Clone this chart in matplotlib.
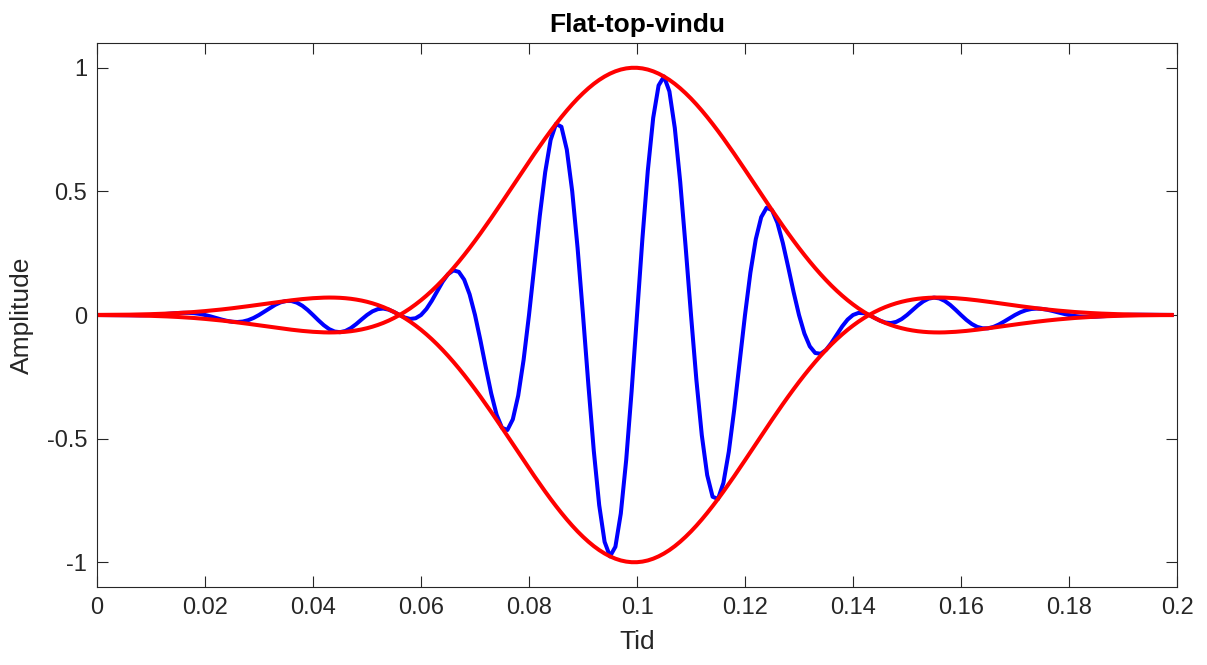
import matplotlib
matplotlib.use("Agg")
import matplotlib.pyplot as plt
import numpy as np

plt.rcParams["font.family"] = ["Liberation Sans", "DejaVu Sans"]
plt.rcParams["axes.unicode_minus"] = False

# sampling rate of the plotted signal (Hz)
fs = 1000

# flat-top window, one value per sample (0 .. 0.199 s)
window = [
    -0.0004, -0.0005, -0.0005, -0.0007, -0.0008, -0.0011, -0.0014, -0.0018, -0.0022, -0.0028,
    -0.0034, -0.0041, -0.0049, -0.0058, -0.0068, -0.0080, -0.0093, -0.0107, -0.0122, -0.0139,
    -0.0158, -0.0178, -0.0199, -0.0222, -0.0246, -0.0272, -0.0299, -0.0327, -0.0356, -0.0386,
    -0.0416, -0.0447, -0.0477, -0.0508, -0.0538, -0.0566, -0.0594, -0.0619, -0.0643, -0.0663,
    -0.0680, -0.0693, -0.0702, -0.0706, -0.0703, -0.0695, -0.0679, -0.0656, -0.0624, -0.0584,
    -0.0534, -0.0474, -0.0403, -0.0322, -0.0228, -0.0122, -0.0004, 0.0127, 0.0270, 0.0428,
    0.0598, 0.0782, 0.0979, 0.1189, 0.1413, 0.1649, 0.1897, 0.2157, 0.2428, 0.2709,
    0.3000, 0.3299, 0.3606, 0.3920, 0.4240, 0.4563, 0.4890, 0.5218, 0.5546, 0.5874,
    0.6198, 0.6519, 0.6833, 0.7141, 0.7440, 0.7728, 0.8005, 0.8269, 0.8519, 0.8753,
    0.8969, 0.9168, 0.9348, 0.9507, 0.9645, 0.9761, 0.9855, 0.9926, 0.9973, 0.9997,
    0.9997, 0.9973, 0.9926, 0.9855, 0.9761, 0.9645, 0.9507, 0.9348, 0.9168, 0.8969,
    0.8753, 0.8519, 0.8269, 0.8005, 0.7728, 0.7440, 0.7141, 0.6833, 0.6519, 0.6198,
    0.5874, 0.5546, 0.5218, 0.4890, 0.4563, 0.4240, 0.3920, 0.3606, 0.3299, 0.3000,
    0.2709, 0.2428, 0.2157, 0.1897, 0.1649, 0.1413, 0.1189, 0.0979, 0.0782, 0.0598,
    0.0428, 0.0270, 0.0127, -0.0004, -0.0122, -0.0228, -0.0322, -0.0403, -0.0474, -0.0534,
    -0.0584, -0.0624, -0.0656, -0.0679, -0.0695, -0.0703, -0.0706, -0.0702, -0.0693, -0.0680,
    -0.0663, -0.0643, -0.0619, -0.0594, -0.0566, -0.0538, -0.0508, -0.0477, -0.0447, -0.0416,
    -0.0386, -0.0356, -0.0327, -0.0299, -0.0272, -0.0246, -0.0222, -0.0199, -0.0178, -0.0158,
    -0.0139, -0.0122, -0.0107, -0.0093, -0.0080, -0.0068, -0.0058, -0.0049, -0.0041, -0.0034,
    -0.0028, -0.0022, -0.0018, -0.0014, -0.0011, -0.0008, -0.0007, -0.0005, -0.0005, -0.0004,
]

# windowed signal (blue), same samples
signal = [
    0, -0.0002, -0.0003, -0.0006, -0.0008, -0.0011, -0.0013, -0.0015, -0.0013, -0.0009,
    0, 0.0013, 0.0029, 0.0047, 0.0065, 0.0080, 0.0088, 0.0087, 0.0072, 0.0043,
    0, -0.0055, -0.0117, -0.0180, -0.0234, -0.0272, -0.0284, -0.0265, -0.0209, -0.0119,
    0, 0.0138, 0.0280, 0.0411, 0.0512, 0.0566, 0.0565, 0.0501, 0.0378, 0.0205,
    0, -0.0214, -0.0413, -0.0571, -0.0669, -0.0695, -0.0646, -0.0531, -0.0367, -0.0180,
    0, 0.0146, 0.0237, 0.0261, 0.0217, 0.0122, 0.0004, -0.0103, -0.0159, -0.0132,
    0, 0.0242, 0.0575, 0.0962, 0.1344, 0.1649, 0.1804, 0.1745, 0.1427, 0.0837,
    0, -0.1019, -0.2120, -0.3171, -0.4032, -0.4563, -0.4651, -0.4221, -0.3260, -0.1815,
    0, 0.2014, 0.4016, 0.5777, 0.7076, 0.7728, 0.7613, 0.6690, 0.5007, 0.2705,
    0, -0.2833, -0.5495, -0.7691, -0.9173, -0.9761, -0.9373, -0.8030, -0.5862, -0.3089,
    0, 0.3082, 0.5834, 0.7973, 0.9283, 0.9645, 0.9042, 0.7563, 0.5389, 0.2772,
    0, -0.2633, -0.4860, -0.6476, -0.7350, -0.7440, -0.6792, -0.5528, -0.3832, -0.1915,
    0, 0.1714, 0.3067, 0.3956, 0.4340, 0.4240, 0.3728, 0.2917, 0.1939, 0.0927,
    0, -0.0750, -0.1268, -0.1535, -0.1568, -0.1413, -0.1131, -0.0792, -0.0460, -0.0185,
    0, 0.0083, 0.0075, -0.0003, -0.0116, -0.0228, -0.0306, -0.0326, -0.0279, -0.0165,
    0, 0.0193, 0.0386, 0.0549, 0.0661, 0.0703, 0.0671, 0.0568, 0.0407, 0.0210,
    0, -0.0199, -0.0364, -0.0481, -0.0538, -0.0538, -0.0483, -0.0386, -0.0263, -0.0129,
    0, 0.0110, 0.0192, 0.0242, 0.0259, 0.0246, 0.0211, 0.0161, 0.0105, 0.0049,
    0, -0.0038, -0.0063, -0.0075, -0.0076, -0.0068, -0.0055, -0.0040, -0.0024, -0.0011,
    0, 0.0007, 0.0011, 0.0011, 0.0010, 0.0008, 0.0007, 0.0004, 0.0003, 0.0001,
]

x_ticks = [0, 0.02, 0.04, 0.06, 0.08, 0.1, 0.12, 0.14, 0.16, 0.18, 0.2]
x_tick_labels = ["0", "0.02", "0.04", "0.06", "0.08", "0.1", "0.12", "0.14", "0.16", "0.18", "0.2"]
y_ticks = [-1, -0.5, 0, 0.5, 1]
y_tick_labels = ["-1", "-0.5", "0", "0.5", "1"]

t = np.arange(len(window)) / fs
env = np.array(window)

fig = plt.figure(figsize=(12.07, 6.65), dpi=100)
ax = fig.add_axes([97 / 1207, 1 - 587 / 665, 1080 / 1207, 544 / 665])

ax.plot(t, signal, color=(0, 0, 1), lw=2.9)
ax.plot(t, env, color=(1, 0, 0), lw=2.9)
ax.plot(t, -env, color=(1, 0, 0), lw=2.9)

ax.set_xlim(0, 0.2)
ax.set_ylim(-1.1, 1.1)
ax.set_xticks(x_ticks)
ax.set_xticklabels(x_tick_labels)
ax.set_yticks(y_ticks)
ax.set_yticklabels(y_tick_labels)

dark = "#262626"
ax.tick_params(direction="in", length=8, width=0.8, top=True, right=True,
               labelsize=17, colors=dark, pad=7)
for s in ax.spines.values():
    s.set_color(dark)
    s.set_linewidth(0.8)

ax.set_xlabel("Tid", fontsize=19, color=dark, labelpad=8)
ax.set_ylabel("Amplitude", fontsize=19, color=dark, labelpad=9)
ax.set_title("Flat-top-vindu", fontsize=19, fontweight="bold", pad=8)

fig.savefig("out.png", dpi=100)
